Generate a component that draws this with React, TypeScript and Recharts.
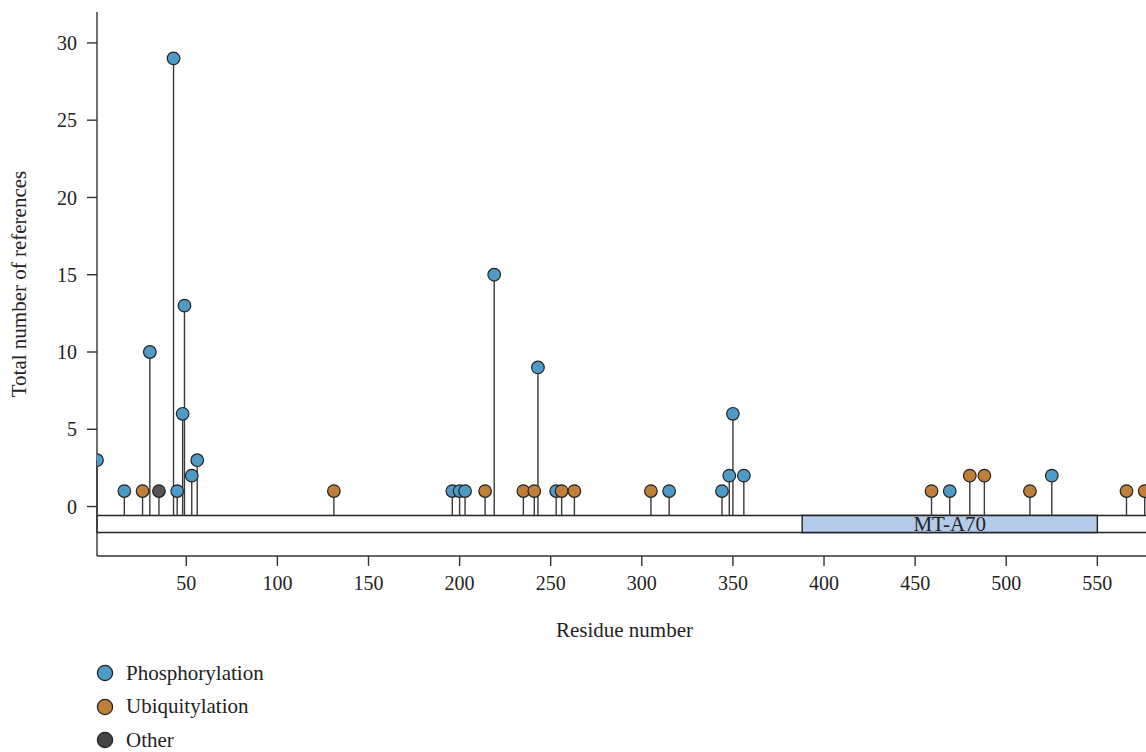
import { ScatterChart, Scatter, XAxis, YAxis, ReferenceArea, ErrorBar } from "recharts";

// residue positions and reference counts
const phosphoResidues = [1, 16, 30, 43, 45, 48, 49, 53, 56, 196, 200, 203, 219, 243, 253, 315, 344, 348, 350, 356, 469, 525];
const phosphoRefs = [3, 1, 10, 29, 1, 6, 13, 2, 3, 1, 1, 1, 15, 9, 1, 1, 1, 2, 6, 2, 1, 2];

const ubiqResidues = [26, 131, 214, 235, 241, 256, 263, 305, 459, 480, 488, 513, 566, 576];
const ubiqRefs = [1, 1, 1, 1, 1, 1, 1, 1, 1, 2, 2, 1, 1, 1];

const otherResidues = [35];
const otherRefs = [1];

const yTicks = [0, 5, 10, 15, 20, 25, 30];
const xTicks = [50, 100, 150, 200, 250, 300, 350, 400, 450, 500, 550];

const proteinStart = 1;
const proteinEnd = 580;
const domainName = "MT-A70";
const domainStart = 388;
const domainEnd = 550;

// protein track sits just under zero
const trackTop = -0.58;
const trackBottom = -1.68;

const BLUE = "#4e9bc8";
const ORANGE = "#c07f38";
const GREY = "#555555";
const INK = "#222";

const toPoints = (residues: number[], refs: number[]) =>
  residues.map((r, i) => ({ residue: r, refs: refs[i], stem: [refs[i] - trackTop, 0] }));

const phospho = toPoints(phosphoResidues, phosphoRefs);
const ubiq = toPoints(ubiqResidues, ubiqRefs);
const other = toPoints(otherResidues, otherRefs);
const allPoints = [...phospho, ...ubiq, ...other];

const dot = (fill: string) => (props: any) => (
  <circle cx={props.cx} cy={props.cy} r={6.3} fill={fill} stroke={INK} strokeWidth={1.2} />
);

const legendItems = [
  { name: "Phosphorylation", color: BLUE },
  { name: "Ubiquitylation", color: ORANGE },
  { name: "Other", color: "#454545" },
];

export default function App() {
  return (
    <div
      style={{
        position: "absolute",
        left: 0,
        top: 0,
        width: 1146,
        height: 752,
        overflow: "hidden",
        background: "#fff",
        fontFamily: "'Liberation Serif', serif",
      }}
    >
      <ScatterChart width={1152} height={660} margin={{ top: 12, right: 0, bottom: 23, left: 0 }}>
        <XAxis
          type="number"
          dataKey="residue"
          domain={[proteinStart, proteinEnd]}
          ticks={xTicks}
          allowDataOverflow
          height={81}
          tickSize={10}
          tickMargin={10}
          stroke="#333"
          strokeWidth={1.4}
          tick={{ fill: INK, fontSize: 20 }}
          label={{ value: "Residue number", position: "insideBottom", offset: 0, fill: INK, fontSize: 21 }}
        />
        <YAxis
          type="number"
          dataKey="refs"
          domain={[-3.2, 32]}
          ticks={yTicks}
          allowDataOverflow
          width={97}
          tickSize={10}
          tickMargin={10}
          stroke="#333"
          strokeWidth={1.4}
          tick={{ fill: INK, fontSize: 20 }}
          label={{
            value: "Total number of references",
            angle: -90,
            position: "insideLeft",
            offset: 19,
            fill: INK,
            fontSize: 21,
            style: { textAnchor: "middle" },
          }}
        />
        <ReferenceArea
          x1={proteinStart}
          x2={proteinEnd}
          y1={trackBottom}
          y2={trackTop}
          fill="#fff"
          fillOpacity={1}
          stroke={INK}
          strokeWidth={1.4}
        />
        <ReferenceArea
          x1={domainStart}
          x2={domainEnd}
          y1={trackBottom}
          y2={trackTop}
          fill="#b4cbea"
          fillOpacity={1}
          stroke={INK}
          strokeWidth={1.4}
          label={{ value: domainName, position: "center", fill: INK, fontSize: 21 }}
        />
        <Scatter data={allPoints} isAnimationActive={false} shape={() => <g />} legendType="none">
          <ErrorBar dataKey="stem" direction="y" width={0} stroke="#3a3a3a" strokeWidth={1.4} />
        </Scatter>
        <Scatter name="Phosphorylation" data={phospho} isAnimationActive={false} shape={dot(BLUE)} />
        <Scatter name="Ubiquitylation" data={ubiq} isAnimationActive={false} shape={dot(ORANGE)} />
        <Scatter name="Other" data={other} isAnimationActive={false} shape={dot(GREY)} />
      </ScatterChart>

      {legendItems.map((item, i) => (
        <div
          key={item.name}
          style={{
            position: "absolute",
            left: 96,
            top: 662 + i * 33.5,
            height: 22,
            display: "flex",
            alignItems: "center",
            fontSize: 21,
            color: INK,
          }}
        >
          <svg width={20} height={20} style={{ marginRight: 10 }}>
            <circle cx={9} cy={10} r={7.6} fill={item.color} stroke={INK} strokeWidth={1.3} />
          </svg>
          {item.name}
        </div>
      ))}
    </div>
  );
}
